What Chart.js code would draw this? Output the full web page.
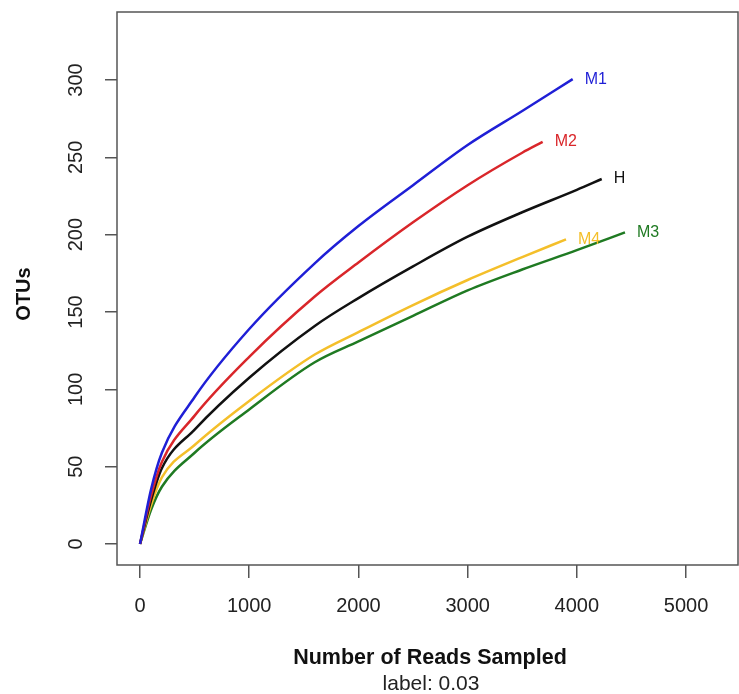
<!DOCTYPE html>
<html>
<head>
<meta charset="utf-8">
<script src="https://cdn.jsdelivr.net/npm/chart.js@4/dist/chart.umd.min.js"></script>
<style>
html,body{margin:0;padding:0;background:#fff;}
#wrap{width:739px;height:694px;position:relative;}
</style>
</head>
<body>
<div id="wrap"><canvas id="c" width="739" height="694"></canvas></div>
<script>
// ---- data ----
const seriesNames = ["M1", "M2", "H", "M4", "M3"];
const seriesColors = ["#1f1fd6", "#d9262a", "#111111", "#f4bf2a", "#1f7a22"];

const m1X = [0, 100, 200, 500, 1000, 1600, 2000, 2500, 3000, 3500, 3962];
const m1Y = [0, 35, 59, 95, 139, 181.5, 205.6, 232, 258, 280, 300.6];

const m2X = [0, 100, 200, 500, 1000, 1600, 2000, 2500, 3000, 3500, 3687];
const m2Y = [0, 31, 53, 83, 121, 160, 182, 208, 232, 253, 260];

const hX = [0, 100, 200, 500, 1000, 1600, 2000, 2500, 3000, 3500, 4000, 4228];
const hY = [0, 28, 49, 74, 107.5, 141, 159, 179.5, 198.7, 214.5, 229, 236];

const m4X = [0, 100, 200, 500, 1000, 1600, 2000, 2500, 3000, 3500, 3901];
const m4Y = [0, 25, 43, 64, 92.5, 122.5, 137, 154.5, 170.7, 185.5, 197];

const m3X = [0, 100, 200, 500, 1000, 1600, 2000, 2500, 3000, 3500, 4000, 4441];
const m3Y = [0, 22, 37, 59, 87, 117.5, 131, 147.5, 164, 177.5, 190, 201.5];

const xTicks = [0, 1000, 2000, 3000, 4000, 5000];
const yTicks = [0, 50, 100, 150, 200, 250, 300];

const xTitle = "Number of Reads Sampled";
const subTitle = "label: 0.03";
const yTitle = "OTUs";

// ---- build datasets ----
const allX = [m1X, m2X, hX, m4X, m3X];
const allY = [m1Y, m2Y, hY, m4Y, m3Y];
const datasets = seriesNames.map((n, i) => ({
  label: n,
  data: allX[i].map((x, j) => ({x: x, y: allY[i][j]})),
  borderColor: seriesColors[i],
  backgroundColor: seriesColors[i],
  borderWidth: 2.5,
  pointRadius: 0,
  showLine: true,
  fill: false,
  cubicInterpolationMode: 'monotone'
}));

const FONT = "'Liberation Sans', Arial, sans-serif";

const decor = {
  id: 'decor',
  afterDraw(chart) {
    const ctx = chart.ctx;
    const a = chart.chartArea;
    const xs = chart.scales.x, ys = chart.scales.y;
    ctx.save();
    // box
    ctx.strokeStyle = '#555';
    ctx.lineWidth = 1.5;
    ctx.strokeRect(a.left, a.top, a.right - a.left, a.bottom - a.top);
    // rotated y tick labels
    ctx.fillStyle = '#222';
    ctx.font = "20px " + FONT;
    ctx.textAlign = 'center';
    ctx.textBaseline = 'middle';
    yTicks.forEach(v => {
      const py = ys.getPixelForValue(v);
      ctx.save();
      ctx.translate(76, py);
      ctx.rotate(-Math.PI / 2);
      ctx.fillText(String(v), 0, 0);
      ctx.restore();
    });
    // y title
    ctx.save();
    ctx.font = "bold 20px " + FONT;
    ctx.fillStyle = '#111';
    ctx.translate(24, 294);
    ctx.rotate(-Math.PI / 2);
    ctx.fillText(yTitle, 0, 0);
    ctx.restore();
    // x title and subtitle
    ctx.font = "bold 21.5px " + FONT;
    ctx.fillStyle = '#111';
    ctx.fillText(xTitle, 430, 658);
    ctx.font = "21px " + FONT;
    ctx.fillStyle = '#222';
    ctx.fillText(subTitle, 431, 684);
    // end labels
    ctx.font = "16px " + FONT;
    ctx.textAlign = 'left';
    chart.data.datasets.forEach((ds, i) => {
      const last = ds.data[ds.data.length - 1];
      const px = xs.getPixelForValue(last.x) + 12;
      const py = ys.getPixelForValue(last.y);
      ctx.fillStyle = seriesColors[i];
      ctx.fillText(seriesNames[i], px, py);
    });
    ctx.restore();
  }
};

new Chart(document.getElementById('c'), {
  type: 'scatter',
  data: { datasets },
  options: {
    responsive: false,
    animation: false,
    layout: { padding: { left: 0, top: 12, right: 1, bottom: 0 } },
    plugins: { legend: { display: false }, tooltip: { enabled: false } },
    scales: {
      x: {
        type: 'linear',
        min: -211, max: 5476,
        afterBuildTicks: s => { s.ticks = xTicks.map(v => ({value: v})); },
        afterFit: s => { s.height = 129; },
        border: { display: false },
        grid: { drawOnChartArea: false, drawTicks: true, tickLength: 13, color: '#555', lineWidth: 1.5 },
        ticks: { color: '#222', font: { size: 20, family: FONT }, padding: 16, maxRotation: 0, autoSkip: false,
                 callback: v => String(v) }
      },
      y: {
        type: 'linear',
        min: -13.6, max: 344,
        afterBuildTicks: s => { s.ticks = yTicks.map(v => ({value: v})); },
        afterFit: s => { s.width = 117; },
        border: { display: false },
        grid: { drawOnChartArea: false, drawTicks: true, tickLength: 12, color: '#555', lineWidth: 1.5 },
        ticks: { display: true, color: 'rgba(0,0,0,0)', font: { size: 1 }, padding: 0 }
      }
    }
  },
  plugins: [decor]
});
</script>
</body>
</html>
